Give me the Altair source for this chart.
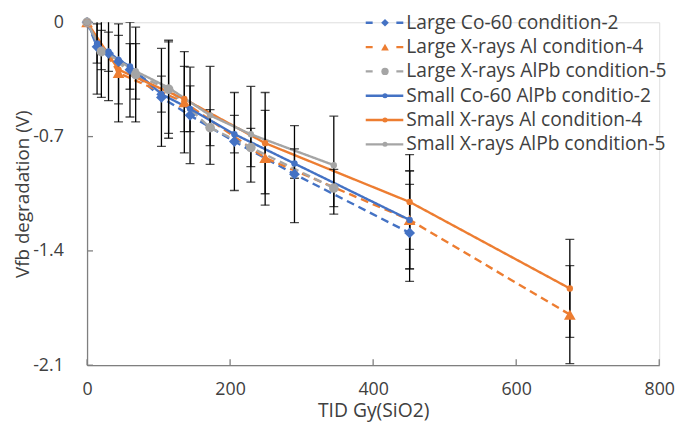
import altair as alt
import pandas as pd

# ---------------- data ----------------
series_names = [
    "Large Co-60 condition-2",
    "Large X-rays Al condition-4",
    "Large X-rays AlPb condition-5",
    "Small Co-60 AlPb conditio-2",
    "Small X-rays Al condition-4",
    "Small X-rays AlPb condition-5",
]
series_colors = ["#4472C4", "#ED7D31", "#A5A5A5", "#4472C4", "#ED7D31", "#A5A5A5"]
series_dash = [[8, 5], [8, 5], [8, 5], [1, 0], [1, 0], [1, 0]]
legend_dash = [[7, 24], [7, 24], [7, 24], [1, 0], [1, 0], [1, 0]]
series_shapes = ["diamond", "triangle-up", "circle", "circle", "circle", "circle"]
series_sizes = [120, 140, 95, 42, 42, 42]
legend_sizes = [60, 60, 55, 26, 26, 26]

large_co60_x = [0, 14, 30, 44, 60, 104, 144, 206, 290, 451]
large_co60_y = [0, -0.15, -0.19, -0.24, -0.29, -0.46, -0.57, -0.73, -0.93, -1.29]
large_co60_err = [0, 0.29, 0.29, 0, 0.29, 0.30, 0.295, 0.30, 0.297, 0.297]

large_al_x = [0, 44, 136, 249, 451, 675]
large_al_y = [0, -0.31, -0.49, -0.83, -1.21, -1.79]
large_al_err = [0, 0.30, 0.31, 0.29, 0.30, 0.30]

large_alpb_x = [0, 20, 68, 114, 172, 229, 345]
large_alpb_y = [0, -0.18, -0.32, -0.41, -0.645, -0.767, -1.015]
large_alpb_err = [0, 0.28, 0.29, 0.30, 0.11, 0.117, 0.114]

small_co60_x = [0, 14, 30, 44, 60, 104, 144, 206, 290, 451]
small_co60_y = [0, -0.13, -0.18, -0.23, -0.27, -0.44, -0.53, -0.685, -0.865, -1.21]
small_co60_err = [0, 0.12, 0.12, 0, 0.14, 0.11, 0.14, 0.115, 0.09, 0.30]

small_al_x = [0, 44, 136, 249, 451, 675]
small_al_y = [0, -0.29, -0.47, -0.74, -1.10, -1.63]
small_al_err = [0, 0.21, 0.20, 0.31, 0.29, 0.30]

small_alpb_x = [0, 20, 68, 114, 172, 229, 345]
small_alpb_y = [0, -0.17, -0.30, -0.40, -0.57, -0.686, -0.875]
small_alpb_err = [0, 0.12, 0.17, 0.28, 0.30, 0.293, 0.30]

x_ticks = [0, 200, 400, 600, 800]
y_ticks = [0, -0.7, -1.4, -2.1]

# ---------------- build table ----------------
all_x = [large_co60_x, large_al_x, large_alpb_x, small_co60_x, small_al_x, small_alpb_x]
all_y = [large_co60_y, large_al_y, large_alpb_y, small_co60_y, small_al_y, small_alpb_y]
all_e = [large_co60_err, large_al_err, large_alpb_err, small_co60_err, small_al_err, small_alpb_err]

rows = []
for name, xs, ys, es in zip(series_names, all_x, all_y, all_e):
    for i, (xv, yv, ev) in enumerate(zip(xs, ys, es)):
        rows.append({"series": name, "tid": xv, "vfb": yv, "lo": yv - ev, "hi": yv + ev,
                     "err": ev, "order": i})
df = pd.DataFrame(rows)
err_df = df[df["err"] > 0]

W, H = 579, 347
FONT = "Open Sans"
TXT = "#404040"
AXC = "#7F7F7F"

xscale = alt.Scale(domain=[0, 800], nice=False)
yscale = alt.Scale(domain=[-2.1, 0], nice=False)
cscale = alt.Scale(domain=series_names, range=series_colors)
dscale = alt.Scale(domain=series_names, range=series_dash)
shscale = alt.Scale(domain=series_names, range=series_shapes)
szscale = alt.Scale(type="ordinal", domain=series_names, range=series_sizes)

xenc = alt.X("tid:Q", scale=xscale,
             axis=alt.Axis(values=x_ticks, title="TID Gy(SiO2)", grid=False, ticks=False,
                           labelFlush=False, domainColor=AXC, domainWidth=1.3,
                           labelFontSize=18, labelFont=FONT, labelColor=TXT, labelPadding=16,
                           titleFont=FONT, titleFontSize=19.5, titleFontWeight="normal",
                           titleColor=TXT, titlePadding=3))
yenc = alt.Y("vfb:Q", scale=yscale,
             axis=alt.Axis(values=y_ticks, title="Vfb degradation (V)", grid=False, ticks=False,
                           labelFlush=False, domainColor=AXC, domainWidth=1.3,
                           labelFontSize=18, labelFont=FONT, labelColor=TXT, labelPadding=24,
                           titleFont=FONT, titleFontSize=19, titleFontWeight="normal",
                           titleColor=TXT, titlePadding=0,
                           labelExpr="datum.value == 0 ? '0' : '' + datum.value"))

base = alt.Chart(df)

err_rule = alt.Chart(err_df).mark_rule(color="black", strokeWidth=1.3, clip=True).encode(
    x=alt.X("tid:Q", scale=xscale), y=alt.Y("lo:Q", scale=yscale), y2="hi:Q")
err_cap_lo = alt.Chart(err_df).mark_tick(color="black", orient="horizontal", size=9,
                                         thickness=1.3, clip=True).encode(
    x=alt.X("tid:Q", scale=xscale), y=alt.Y("lo:Q", scale=yscale))
err_cap_hi = alt.Chart(err_df).mark_tick(color="black", orient="horizontal", size=9,
                                         thickness=1.3, clip=True).encode(
    x=alt.X("tid:Q", scale=xscale), y=alt.Y("hi:Q", scale=yscale))

lines = base.mark_line(strokeWidth=2.4).encode(
    x=xenc, y=yenc,
    color=alt.Color("series:N", scale=cscale, legend=None),
    strokeDash=alt.StrokeDash("series:N", scale=dscale, legend=None),
    detail="series:N",
    order="order:Q",
)
points = base.mark_point(filled=True, opacity=1).encode(
    x=alt.X("tid:Q", scale=xscale), y=alt.Y("vfb:Q", scale=yscale),
    color=alt.Color("series:N", scale=cscale, legend=None),
    shape=alt.Shape("series:N", scale=shscale, legend=None),
    size=alt.Size("series:N", scale=szscale, legend=None),
)

# inward tick marks (Excel style)
xt = alt.Chart(pd.DataFrame({"t": x_ticks})).mark_rule(color=AXC, strokeWidth=1.3).encode(
    x=alt.X("t:Q", scale=xscale), y=alt.value(H), y2=alt.value(H - 6))
yt = alt.Chart(pd.DataFrame({"t": y_ticks})).mark_rule(color=AXC, strokeWidth=1.3).encode(
    y=alt.Y("t:Q", scale=yscale), x=alt.value(0), x2=alt.value(6))

# legend (top right)
legend_layers = []
leg_x0, leg_x1, leg_mid, leg_tx = 282, 320, 301.5, 323
for i, name in enumerate(series_names):
    ly = 0.5 + 24.6 * i
    one = pd.DataFrame({"series": [name]})
    legend_layers.append(alt.Chart(one).mark_rule(
        color=series_colors[i], strokeWidth=2.4, strokeDash=legend_dash[i]).encode(
        x=alt.value(leg_x0), x2=alt.value(leg_x1), y=alt.value(ly)))
    legend_layers.append(alt.Chart(one).mark_point(
        filled=True, opacity=1, color=series_colors[i], shape=series_shapes[i],
        size=legend_sizes[i]).encode(x=alt.value(leg_mid), y=alt.value(ly)))
    legend_layers.append(alt.Chart(one).mark_text(
        align="left", baseline="middle", font=FONT, fontSize=19.4, color=TXT).encode(
        x=alt.value(leg_tx), y=alt.value(ly), text="series:N"))

chart = alt.layer(
    xt, yt, lines, err_rule, err_cap_lo, err_cap_hi, points, *legend_layers
).properties(
    width=W, height=H,
    autosize=alt.AutoSizeParams(type="none"),
    padding={"left": 80, "top": 12, "right": 20, "bottom": 55},
).configure_view(stroke=None).configure(background="white")

chart.save("out.html", embed_options={"renderer": "svg", "actions": False})
